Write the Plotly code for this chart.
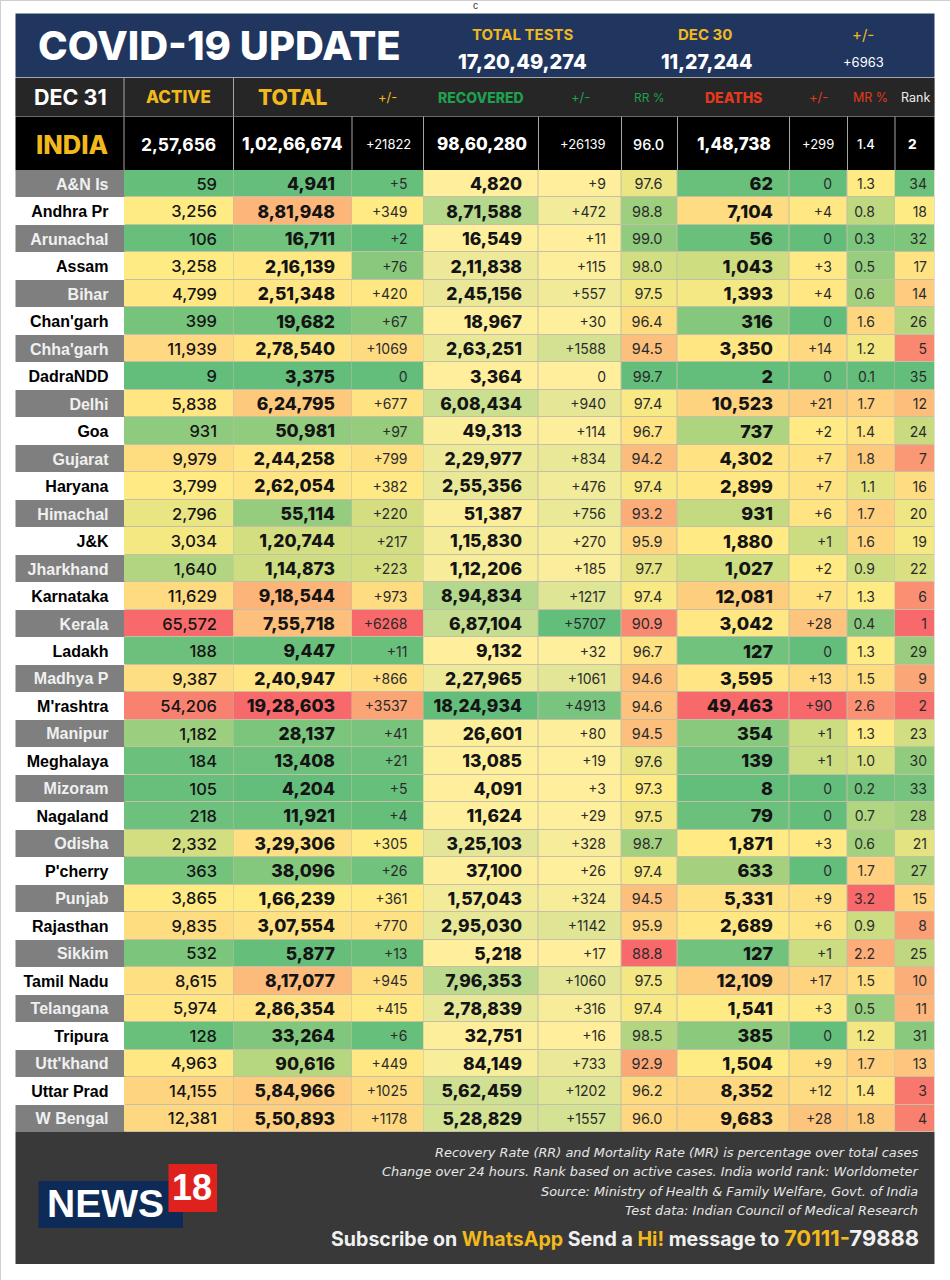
import numpy as np
import plotly.graph_objects as go

# ---------- data ----------
states = ["A&N Is","Andhra Pr","Arunachal","Assam","Bihar","Chan'garh","Chha'garh","DadraNDD","Delhi","Goa","Gujarat","Haryana","Himachal","J&K","Jharkhand","Karnataka","Kerala","Ladakh","Madhya P","M'rashtra","Manipur","Meghalaya","Mizoram","Nagaland","Odisha","P'cherry","Punjab","Rajasthan","Sikkim","Tamil Nadu","Telangana","Tripura","Utt'khand","Uttar Prad","W Bengal"]
active = [59,3256,106,3258,4799,399,11939,9,5838,931,9979,3799,2796,3034,1640,11629,65572,188,9387,54206,1182,184,105,218,2332,363,3865,9835,532,8615,5974,128,4963,14155,12381]
total = [4941,881948,16711,216139,251348,19682,278540,3375,624795,50981,244258,262054,55114,120744,114873,918544,755718,9447,240947,1928603,28137,13408,4204,11921,329306,38096,166239,307554,5877,817077,286354,33264,90616,584966,550893]
total_delta = [5,349,2,76,420,67,1069,0,677,97,799,382,220,217,223,973,6268,11,866,3537,41,21,5,4,305,26,361,770,13,945,415,6,449,1025,1178]
recovered = [4820,871588,16549,211838,245156,18967,263251,3364,608434,49313,229977,255356,51387,115830,112206,894834,687104,9132,227965,1824934,26601,13085,4091,11624,325103,37100,157043,295030,5218,796353,278839,32751,84149,562459,528829]
recovered_delta = [9,472,11,115,557,30,1588,0,940,114,834,476,756,270,185,1217,5707,32,1061,4913,80,19,3,29,328,26,324,1142,17,1060,316,16,733,1202,1557]
rr = [97.6,98.8,99.0,98.0,97.5,96.4,94.5,99.7,97.4,96.7,94.2,97.4,93.2,95.9,97.7,97.4,90.9,96.7,94.6,94.6,94.5,97.6,97.3,97.5,98.7,97.4,94.5,95.9,88.8,97.5,97.4,98.5,92.9,96.2,96.0]
deaths = [62,7104,56,1043,1393,316,3350,2,10523,737,4302,2899,931,1880,1027,12081,3042,127,3595,49463,354,139,8,79,1871,633,5331,2689,127,12109,1541,385,1504,8352,9683]
deaths_delta = [0,4,0,3,4,0,14,0,21,2,7,7,6,1,2,7,28,0,13,90,1,1,0,0,3,0,9,6,1,17,3,0,9,12,28]
mr = [1.3,0.8,0.3,0.5,0.6,1.6,1.2,0.1,1.7,1.4,1.8,1.1,1.7,1.6,0.9,1.3,0.4,1.3,1.5,2.6,1.3,1.0,0.2,0.7,0.6,1.7,3.2,0.9,2.2,1.5,0.5,1.2,1.7,1.4,1.8]
rank = [34,18,32,17,14,26,5,35,12,24,7,16,20,19,22,6,1,29,9,2,23,30,33,28,21,27,15,8,25,10,11,31,13,3,4]
india = ["2,57,656","1,02,66,674","+21822","98,60,280","+26139","96.0","1,48,738","+299","1.4","2"]
headers = ["ACTIVE","TOTAL","+/-","RECOVERED","+/-","RR %","DEATHS","+/-","MR %","Rank"]

# ---------- formats ----------
def inr(n):
    s = str(n)
    if len(s) <= 3:
        return s
    head, tail = s[:-3], s[-3:]
    parts = []
    while len(head) > 2:
        parts.insert(0, head[-2:])
        head = head[:-2]
    if head:
        parts.insert(0, head)
    return ",".join(parts + [tail])
plus = lambda n: "0" if n == 0 else f"+{n}"
dec = lambda v: f"{v:.1f}"

# ---------- style ----------
W, H = 950, 1280
NUM = "Inter"
ARIAL = "Liberation Sans"
NAVY, DARK, FOOT = "#20365F", "#262626", "#393939"
YEL, GRN, RED = "#F2B91D", "#1FA04F", "#E5391D"
edges = [15.5, 124, 233.5, 352, 423.5, 538.5, 621.5, 677.5, 789.5, 847.5, 895, 934.5]
G, Y, R, PALE = "#63BE7B", "#FFEB84", "#F8696B", "#FFEF9C"
INK, SOFT = "#141414", "#2B2B2B"
TEXT_DROP = 2   # px: text sits this far below the row's geometric centre

def px(x): return x / W
def py(y): return 1 - y / H

def three(v, lo, mid, hi, centre=None):
    a = np.array(v, float)
    c = np.median(a) if centre is None else centre
    p = (c - a.min()) / (a.max() - a.min())
    return [[0, lo], [p, mid], [1, hi]]
def two(lo, hi):
    return [[0, lo], [1, hi]]

columns = [
    (active, three(active, G, Y, R), inr, 217, 16.5, 500, INK),
    (total, three(total, G, Y, R), inr, 335, 17.5, 800, INK),
    (total_delta, three(total_delta, G, Y, R), plus, 407.5, 14, 400, SOFT),
    (recovered, two(PALE, G), inr, 522, 17.5, 800, INK),
    (recovered_delta, two(PALE, G), plus, 606, 14, 400, SOFT),
    (rr, three(rr, R, Y, G), dec, 662.5, 14.5, 400, SOFT),
    (deaths, three(deaths, G, Y, R), inr, 773, 18, 800, INK),
    (deaths_delta, three(deaths_delta, G, Y, R, centre=1.5), plus, 832, 14, 400, SOFT),
    (mr, three(mr, G, Y, R), dec, 875, 14, 400, SOFT),
    (rank, three(rank, R, Y, G), str, 927, 14, 400, SOFT),
]

fig = go.Figure()

# state label column
fig.add_trace(go.Heatmap(
    z=[[i % 2] for i in range(len(states))], x=edges[:2], y=states,
    colorscale=[[0, "#7F7F7F"], [1, "#FFFFFF"]], zmin=0, zmax=1,
    showscale=False, hoverinfo="skip"))
fig.add_trace(go.Scatter(
    x=[108.5] * len(states), y=states, yaxis="y2", text=states, mode="text",
    textposition="middle left", cliponaxis=False, hoverinfo="skip",
    textfont=dict(family=ARIAL, size=16, weight=700,
                  color=["#F0F0F0" if i % 2 == 0 else "#000000" for i in range(len(states))])))

# value columns: one heatmap per column, each with its own colour scale
for i, (vals, scale, fmt, right, size, weight, ink) in enumerate(columns):
    fig.add_trace(go.Heatmap(
        z=[[v] for v in vals], x=edges[i + 1:i + 3], y=states,
        colorscale=scale, zmin=min(vals), zmax=max(vals),
        xgap=1, ygap=1, showscale=False, hoverinfo="skip"))
    fig.add_trace(go.Scatter(
        x=[right] * len(vals), y=states, yaxis="y2", text=[fmt(v) for v in vals], mode="text",
        textposition="middle left", cliponaxis=False, hoverinfo="skip",
        textfont=dict(family=NUM, size=size, weight=weight, color=ink)))

shapes = []
def rect(x0, y0, x1, y1, fill):
    shapes.append(dict(type="rect", xref="paper", yref="paper", layer="below",
                       x0=px(x0), x1=px(x1), y0=py(y1), y1=py(y0),
                       fillcolor=fill, line=dict(width=0)))
def vline(x, y0, y1, color="#A6A6A6"):
    shapes.append(dict(type="line", xref="paper", yref="paper", layer="below",
                       x0=px(x), x1=px(x), y0=py(y1), y1=py(y0),
                       line=dict(color=color, width=1)))

rect(0, 0, W, 1, "#D0D0D0")
rect(0, 0, 1, H, "#D0D0D0")
rect(15.5, 13.5, 934.5, 77, NAVY)
rect(15.5, 77, 934.5, 116.5, "#A6A6A6")
rect(15.5, 78, 934.5, 116, DARK)
rect(15.5, 116.5, 934.5, 170, "#000000")
rect(124, 170, 934.5, 1132, "#C4BFA6")
rect(15.5, 1132, 934.5, 1264, FOOT)
for e in edges[1:3]:
    vline(e, 78, 116)
for e in edges[1:-1]:
    vline(e, 116.5, 170)
# logo
rect(38.5, 1181, 183, 1228, "#0E2A57")
rect(168.5, 1164, 217, 1212, "#E0221F")

ann = []
def t(text, x, y, size, color="#FFFFFF", family=NUM, weight=400, anchor="center", style="normal"):
    ann.append(dict(text=text, xref="paper", yref="paper", x=px(x), y=py(y),
                    xanchor=anchor, yanchor="middle", showarrow=False, align=anchor,
                    font=dict(family=family, size=size, color=color, weight=weight, style=style)))

t("c", 475, 5, 10, "#333333", family="Liberation Sans")
t("COVID-19 UPDATE", 219, 45.5, 40, weight=800)
t("TOTAL TESTS", 522, 34, 15, YEL, weight=700)
t("DEC 30", 705, 34, 15, YEL, weight=700)
t("+/-", 863, 34, 15, YEL)
t("17,20,49,274", 522.5, 62, 20, weight=800)
t("11,27,244", 706, 62, 19.5, weight=800)
t("+6963", 863, 62, 13)

t("DEC 31", 70, 97, 21.5, weight=700)
t(headers[0], 178.5, 97, 17, YEL, weight=800)
t(headers[1], 293, 97, 21, YEL, weight=800)
t(headers[2], 387, 97, 13, YEL)
t(headers[3], 481, 97, 14, GRN, weight=800)
t(headers[4], 580, 97, 13, GRN)
t(headers[5], 649, 97, 12, GRN)
t(headers[6], 733, 97, 14, RED, weight=800)
t(headers[7], 818, 97, 13, RED)
t(headers[8], 870, 97, 12.5, RED)
t(headers[9], 915, 97, 12.5, "#EDEDED")

t("INDIA", 72.5, 144, 25.5, YEL, weight=800)
india_x = [178, 292.5, 388, 481.5, 583, 648, 733.5, 818, 866, 912]
india_s = [(17.5, 700), (17, 800), (13, 400), (17, 800), (13, 400), (14.5, 500), (17, 800), (13, 400), (13, 500), (13.5, 800)]
for s, x, (size, weight) in zip(india, india_x, india_s):
    t(s, x, 144, size, weight=weight)

footer = ["Recovery Rate (RR) and Mortality Rate (MR) is percentage over total cases",
          "Change over 24 hours. Rank based on active cases. India world rank: Worldometer",
          "Source: Ministry of Health & Family Welfare, Govt. of India",
          "Test data: Indian Council of Medical Research"]
for s, y in zip(footer, [1152, 1171.5, 1191, 1210.5]):
    t(s, 919.5, y, 12.9, "#E6E6E6", family="DejaVu Sans", anchor="right", style="italic")
sub = ('Subscribe on <span style="color:%s">WhatsApp</span> Send a <span style="color:%s">Hi!</span> '
       'message to <span style="color:%s;font-size:22px">70111-</span><span style="font-size:22px">79888</span>') % (YEL, YEL, YEL)
t(sub, 921, 1238, 19.6, "#F0F0F0", weight=700, anchor="right")

t("NEWS", 105, 1203, 39, family=ARIAL, weight=700)
t("18", 191.5, 1187, 36, family=ARIAL, weight=700)

hidden = dict(type="category", categoryorder="array", categoryarray=states,
              range=[len(states) - 0.5, -0.5], visible=False, fixedrange=True)
fig.update_layout(
    width=W, height=H, margin=dict(l=0, r=0, t=0, b=0),
    paper_bgcolor="#FFFFFF", plot_bgcolor="rgba(0,0,0,0)", showlegend=False,
    shapes=shapes, annotations=ann,
    xaxis=dict(range=[0, W], domain=[0, 1], visible=False, fixedrange=True),
    yaxis=dict(domain=[py(1132), py(170)], **hidden),
    yaxis2=dict(domain=[py(1132 + TEXT_DROP), py(170 + TEXT_DROP)], anchor="x", **hidden),
)
fig.write_html("out.html", config=dict(displayModeBar=False),
               post_script="document.body.style.margin='0';")
